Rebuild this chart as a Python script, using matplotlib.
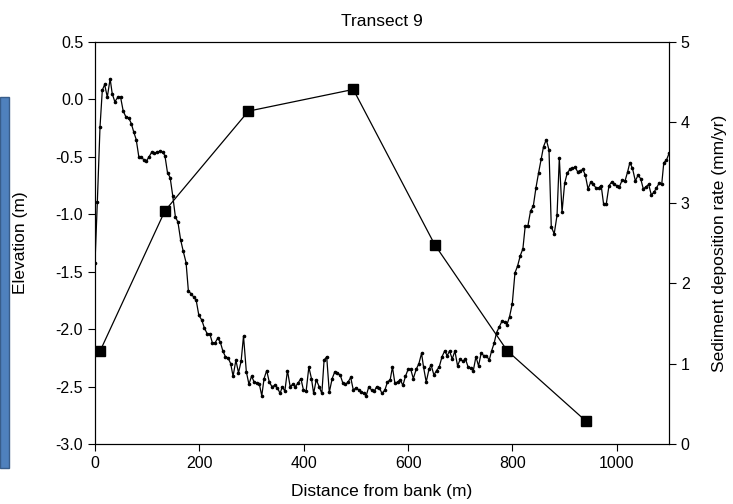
import matplotlib
matplotlib.use('Agg')
import matplotlib.pyplot as plt
from matplotlib.patches import Rectangle

plt.rcParams['font.family'] = ['Liberation Sans', 'DejaVu Sans']

# elevation profile along the transect
dist = [0, 4.5, 9.6, 14, 18.5, 23.6, 29, 33, 38, 44, 49, 54, 59, 64.5, 69.6, 74, 79, 84, 89, 94,
        98, 103.5, 108.6, 113.7, 119, 124.6, 130, 134, 139, 144, 149, 154, 159, 164, 169, 174.5,
        179, 184, 189, 194, 199, 204.6, 209.6, 215, 220, 225, 230, 235, 240, 245, 250, 255, 260,
        264.6, 270, 275, 280, 284.6, 290, 295, 300, 305, 310, 315, 319.6, 324, 329, 334, 339,
        344.6, 349.6, 354.7, 359, 363.8, 368.8, 374, 379, 384, 389, 394.5, 399.5, 404.6, 409.8,
        414.8, 419, 424, 429.5, 434.7, 439, 444, 449, 454.5, 459.6, 464.6, 470, 475, 480, 485,
        490, 495, 500.5, 505.6, 510.7, 515, 519.7, 524.8, 530, 535, 540, 545, 550, 555.5, 560.5,
        565.7, 570, 574.7, 580, 585, 590, 595, 600, 605, 610, 615.5, 620.7, 625.8, 629.6, 634.7,
        640, 644, 649.5, 654.5, 659.6, 665, 670, 675, 679.4, 684.6, 689.7, 694.8, 700, 705, 710,
        715, 720, 725, 730, 735, 740, 745, 750, 755.5, 760, 765, 769.5, 774.7, 780, 785, 789.5,
        794.5, 799.6, 804.8, 809.8, 815, 820, 824.5, 829.6, 834.7, 839.9, 845, 850, 855, 859.6,
        864.8, 870, 874.4, 880, 885.4, 889.8, 895, 900, 905, 910, 915, 920, 925, 930, 935, 939.7,
        944.8, 950, 955, 960, 965, 970, 974.6, 979.8, 985, 990, 995, 1000, 1005, 1010.5, 1015.7,
        1020.7, 1025, 1030, 1035.5, 1040.6, 1045.7, 1050.8, 1056, 1061, 1066, 1071, 1076, 1081,
        1086, 1090, 1095, 1100]
elev = [-1.42, -0.89, -0.24, 0.08, 0.13, 0.02, 0.18, 0.05, -0.02, 0.02, 0.02, -0.10, -0.15, -0.16,
        -0.21, -0.28, -0.35, -0.50, -0.50, -0.53, -0.54, -0.50, -0.46, -0.47, -0.46, -0.45, -0.46,
        -0.49, -0.64, -0.68, -0.84, -1.02, -1.07, -1.22, -1.32, -1.42, -1.67, -1.69, -1.72, -1.75,
        -1.88, -1.92, -1.99, -2.04, -2.04, -2.12, -2.12, -2.08, -2.11, -2.19, -2.24, -2.25, -2.30,
        -2.41, -2.27, -2.38, -2.28, -2.06, -2.37, -2.48, -2.41, -2.46, -2.47, -2.48, -2.58, -2.43,
        -2.36, -2.46, -2.50, -2.49, -2.51, -2.56, -2.50, -2.54, -2.36, -2.50, -2.48, -2.50, -2.47,
        -2.43, -2.53, -2.54, -2.33, -2.43, -2.56, -2.44, -2.50, -2.56, -2.27, -2.24, -2.55, -2.43,
        -2.37, -2.38, -2.40, -2.47, -2.48, -2.46, -2.42, -2.53, -2.51, -2.53, -2.55, -2.56, -2.58,
        -2.50, -2.53, -2.54, -2.50, -2.51, -2.56, -2.53, -2.46, -2.44, -2.33, -2.47, -2.46, -2.44,
        -2.49, -2.41, -2.35, -2.35, -2.43, -2.35, -2.30, -2.21, -2.33, -2.46, -2.35, -2.31, -2.40,
        -2.36, -2.33, -2.24, -2.19, -2.23, -2.19, -2.26, -2.19, -2.32, -2.26, -2.28, -2.26, -2.33,
        -2.34, -2.36, -2.24, -2.32, -2.21, -2.23, -2.23, -2.27, -2.19, -2.12, -2.03, -1.98, -1.93,
        -1.94, -1.96, -1.89, -1.78, -1.51, -1.45, -1.36, -1.30, -1.10, -1.10, -0.97, -0.93, -0.77,
        -0.64, -0.52, -0.41, -0.35, -0.44, -1.11, -1.17, -1.01, -0.51, -0.98, -0.73, -0.64, -0.61,
        -0.60, -0.59, -0.63, -0.62, -0.61, -0.66, -0.78, -0.72, -0.74, -0.77, -0.77, -0.75, -0.91,
        -0.91, -0.75, -0.72, -0.74, -0.75, -0.76, -0.70, -0.71, -0.63, -0.55, -0.60, -0.71, -0.66,
        -0.69, -0.78, -0.76, -0.74, -0.83, -0.81, -0.77, -0.73, -0.74, -0.55, -0.53, -0.47]

# sediment deposition rate at the sampling stations
station_dist = [10, 134, 294, 495, 651, 790, 940]
sed_rate = [1.16, 2.90, 4.14, 4.41, 2.48, 1.16, 0.29]

elev_ticks = [-3.0, -2.5, -2.0, -1.5, -1.0, -0.5, 0.0, 0.5]

fig = plt.figure(figsize=(7.33, 5.04), dpi=100)
ax1 = fig.add_axes([0.1296, 0.119, 0.7831, 0.7977])

ax1.plot(dist, elev, 'k', lw=0.9, marker='o', ms=1.6)
ax1.set_xlim(0, 1100)
ax1.set_ylim(-3.0, 0.5)
ax1.set_yticks(elev_ticks)
ax1.set_yticklabels(['%.1f' % v for v in elev_ticks])
ax1.set_xticks([0, 200, 400, 600, 800, 1000])
ax1.set_xlabel('Distance from bank (m)', fontsize=12.5)
ax1.set_ylabel('Elevation (m)', fontsize=12.5)
ax1.xaxis.set_label_coords(0.5, -0.099)
ax1.yaxis.set_label_coords(-0.117, 0.5)
ax1.set_title('Transect 9', fontsize=12.5, y=1.05, va='center', pad=0)
ax1.tick_params(labelsize=11.5, length=5, width=0.8)

ax2 = ax1.twinx()
ax2.plot(station_dist, sed_rate, 'k', lw=0.9, marker='s', ms=7)
ax2.set_ylim(0, 5)
ax2.set_yticks([0, 1, 2, 3, 4, 5])
ax2.set_ylabel('Sediment deposition rate (mm/yr)', fontsize=12.5)
ax2.yaxis.set_label_coords(1.075, 0.5)
ax2.tick_params(labelsize=11.5, length=5, width=0.8)

for ax in (ax1, ax2):
    for s in ax.spines.values():
        s.set_linewidth(0.8)

# blue box at the left edge
fig.patches.append(Rectangle((0, 1 - 468 / 504), 9 / 733, (468 - 97) / 504,
                             transform=fig.transFigure, facecolor='#4f81bd',
                             edgecolor='#385d8a', lw=1.0))

plt.savefig('out.png', dpi=100)
